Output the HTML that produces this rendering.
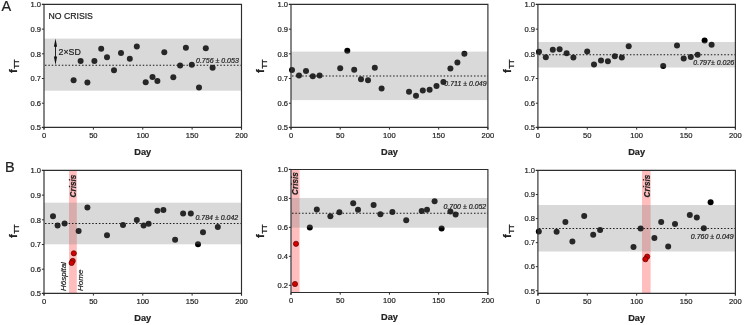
<!DOCTYPE html><html><head><meta charset="utf-8"><title>fTT</title><style>html,body{margin:0;padding:0;background:#fff}svg{display:block;will-change:transform;opacity:0.999}text{font-family:"Liberation Sans",sans-serif;fill:#222;stroke:#222;stroke-width:0.2px}</style></head><body>
<svg width="746" height="325" viewBox="0 0 746 325">
<rect width="746" height="325" fill="#fff"/>
<circle cx="73.6" cy="80.2" r="3" fill="#000"/>
<circle cx="80.6" cy="61" r="3" fill="#000"/>
<circle cx="87.4" cy="82.6" r="3" fill="#000"/>
<circle cx="94.4" cy="61" r="3" fill="#000"/>
<circle cx="101.2" cy="48.8" r="3" fill="#000"/>
<circle cx="107" cy="57.2" r="3" fill="#000"/>
<circle cx="114" cy="70.2" r="3" fill="#000"/>
<circle cx="121" cy="53" r="3" fill="#000"/>
<circle cx="129.8" cy="58.8" r="3" fill="#000"/>
<circle cx="136.8" cy="46.4" r="3" fill="#000"/>
<circle cx="145.7" cy="82.2" r="3" fill="#000"/>
<circle cx="152.5" cy="77" r="3" fill="#000"/>
<circle cx="157.4" cy="81.1" r="3" fill="#000"/>
<circle cx="164.3" cy="52.2" r="3" fill="#000"/>
<circle cx="173.3" cy="77.2" r="3" fill="#000"/>
<circle cx="180.1" cy="65.4" r="3" fill="#000"/>
<circle cx="185.9" cy="47.8" r="3" fill="#000"/>
<circle cx="191.8" cy="64.8" r="3" fill="#000"/>
<circle cx="199" cy="87.4" r="3" fill="#000"/>
<circle cx="205.8" cy="48.2" r="3" fill="#000"/>
<circle cx="212.6" cy="67.8" r="3" fill="#000"/>
<rect x="44" y="38.6" width="197.5" height="52.1" fill="#808080" fill-opacity="0.3"/>
<line x1="45" y1="65.15" x2="241.5" y2="65.15" stroke="#1a1a1a" stroke-width="1.05" stroke-dasharray="1.5 1.87"/>
<path d="M41.9 4.4H241.5V129.6" fill="none" stroke="#2e2e2e" stroke-width="1.15"/>
<path d="M44 4.4V129.6M41.9 127.4H241.5" fill="none" stroke="#2e2e2e" stroke-width="1.15"/>
<line x1="41.9" y1="127.5" x2="44" y2="127.5" stroke="#2e2e2e" stroke-width="1"/>
<text transform="translate(41.1 130.3) scale(0.95 1)" font-size="8" text-anchor="end" fill="#111">0.5</text>
<line x1="41.9" y1="103.21" x2="44" y2="103.21" stroke="#2e2e2e" stroke-width="1"/>
<text transform="translate(41.1 106.01) scale(0.95 1)" font-size="8" text-anchor="end" fill="#111">0.6</text>
<line x1="41.9" y1="78.52" x2="44" y2="78.52" stroke="#2e2e2e" stroke-width="1"/>
<text transform="translate(41.1 81.32) scale(0.95 1)" font-size="8" text-anchor="end" fill="#111">0.7</text>
<line x1="41.9" y1="53.83" x2="44" y2="53.83" stroke="#2e2e2e" stroke-width="1"/>
<text transform="translate(41.1 56.63) scale(0.95 1)" font-size="8" text-anchor="end" fill="#111">0.8</text>
<line x1="41.9" y1="29.14" x2="44" y2="29.14" stroke="#2e2e2e" stroke-width="1"/>
<text transform="translate(41.1 31.94) scale(0.95 1)" font-size="8" text-anchor="end" fill="#111">0.9</text>
<line x1="41.9" y1="4.45" x2="44" y2="4.45" stroke="#2e2e2e" stroke-width="1"/>
<text transform="translate(41.1 7.25) scale(0.95 1)" font-size="8" text-anchor="end" fill="#111">1.0</text>
<line x1="44" y1="127.4" x2="44" y2="129.6" stroke="#2e2e2e" stroke-width="1"/>
<text transform="translate(44 138.2) scale(0.95 1)" font-size="8" text-anchor="middle" fill="#111">0</text>
<line x1="93.38" y1="127.4" x2="93.38" y2="129.6" stroke="#2e2e2e" stroke-width="1"/>
<text transform="translate(93.38 138.2) scale(0.95 1)" font-size="8" text-anchor="middle" fill="#111">50</text>
<line x1="142.75" y1="127.4" x2="142.75" y2="129.6" stroke="#2e2e2e" stroke-width="1"/>
<text transform="translate(142.75 138.2) scale(0.95 1)" font-size="8" text-anchor="middle" fill="#111">100</text>
<line x1="192.12" y1="127.4" x2="192.12" y2="129.6" stroke="#2e2e2e" stroke-width="1"/>
<text transform="translate(192.12 138.2) scale(0.95 1)" font-size="8" text-anchor="middle" fill="#111">150</text>
<line x1="241.5" y1="127.4" x2="241.5" y2="129.6" stroke="#2e2e2e" stroke-width="1"/>
<text transform="translate(241.5 138.2) scale(0.95 1)" font-size="8" text-anchor="middle" fill="#111">200</text>
<text x="142.75" y="155.3" font-size="9.2" font-weight="bold" text-anchor="middle" fill="#111">Day</text>
<text x="238.8" y="62.9" font-size="7" font-style="italic" text-anchor="end" fill="#333">0.756 ± 0.053</text>
<g transform="translate(14.5 67) rotate(-90)"><text x="-5.9" y="2.2" font-size="11.5" font-weight="bold" fill="#000" stroke="#000" stroke-width="0.35">f</text><text x="-1.6" y="4.5" font-size="7.5" font-weight="bold" fill="#000" stroke="#000" stroke-width="0.2">TT</text></g>
<circle cx="292" cy="70" r="3" fill="#000"/>
<circle cx="299" cy="75.6" r="3" fill="#000"/>
<circle cx="306" cy="71" r="3" fill="#000"/>
<circle cx="312.8" cy="76.2" r="3" fill="#000"/>
<circle cx="319.6" cy="75.4" r="3" fill="#000"/>
<circle cx="340.2" cy="68.2" r="3" fill="#000"/>
<circle cx="347.3" cy="50.7" r="3" fill="#000"/>
<circle cx="354.2" cy="69.8" r="3" fill="#000"/>
<circle cx="361" cy="79.2" r="3" fill="#000"/>
<circle cx="368" cy="80.2" r="3" fill="#000"/>
<circle cx="374.8" cy="67.8" r="3" fill="#000"/>
<circle cx="381.6" cy="88.6" r="3" fill="#000"/>
<circle cx="409" cy="91.8" r="3" fill="#000"/>
<circle cx="416" cy="95.8" r="3" fill="#000"/>
<circle cx="422.8" cy="90.4" r="3" fill="#000"/>
<circle cx="429.6" cy="89.8" r="3" fill="#000"/>
<circle cx="436.5" cy="86" r="3" fill="#000"/>
<circle cx="443.4" cy="82" r="3" fill="#000"/>
<circle cx="450.4" cy="68.4" r="3" fill="#000"/>
<circle cx="457.4" cy="62.6" r="3" fill="#000"/>
<circle cx="464.4" cy="53.8" r="3" fill="#000"/>
<rect x="291" y="51.6" width="196.9" height="48.5" fill="#808080" fill-opacity="0.3"/>
<line x1="292" y1="76" x2="487.9" y2="76" stroke="#1a1a1a" stroke-width="1.05" stroke-dasharray="1.5 1.87"/>
<path d="M288.9 4.4H487.9V129.6" fill="none" stroke="#2e2e2e" stroke-width="1.15"/>
<path d="M291 4.4V129.6M288.9 127.4H487.9" fill="none" stroke="#2e2e2e" stroke-width="1.15"/>
<line x1="288.9" y1="127.5" x2="291" y2="127.5" stroke="#2e2e2e" stroke-width="1"/>
<text transform="translate(288.1 130.3) scale(0.95 1)" font-size="8" text-anchor="end" fill="#111">0.5</text>
<line x1="288.9" y1="103.21" x2="291" y2="103.21" stroke="#2e2e2e" stroke-width="1"/>
<text transform="translate(288.1 106.01) scale(0.95 1)" font-size="8" text-anchor="end" fill="#111">0.6</text>
<line x1="288.9" y1="78.52" x2="291" y2="78.52" stroke="#2e2e2e" stroke-width="1"/>
<text transform="translate(288.1 81.32) scale(0.95 1)" font-size="8" text-anchor="end" fill="#111">0.7</text>
<line x1="288.9" y1="53.83" x2="291" y2="53.83" stroke="#2e2e2e" stroke-width="1"/>
<text transform="translate(288.1 56.63) scale(0.95 1)" font-size="8" text-anchor="end" fill="#111">0.8</text>
<line x1="288.9" y1="29.14" x2="291" y2="29.14" stroke="#2e2e2e" stroke-width="1"/>
<text transform="translate(288.1 31.94) scale(0.95 1)" font-size="8" text-anchor="end" fill="#111">0.9</text>
<line x1="288.9" y1="4.45" x2="291" y2="4.45" stroke="#2e2e2e" stroke-width="1"/>
<text transform="translate(288.1 7.25) scale(0.95 1)" font-size="8" text-anchor="end" fill="#111">1.0</text>
<line x1="291" y1="127.4" x2="291" y2="129.6" stroke="#2e2e2e" stroke-width="1"/>
<text transform="translate(291 138.2) scale(0.95 1)" font-size="8" text-anchor="middle" fill="#111">0</text>
<line x1="340.23" y1="127.4" x2="340.23" y2="129.6" stroke="#2e2e2e" stroke-width="1"/>
<text transform="translate(340.23 138.2) scale(0.95 1)" font-size="8" text-anchor="middle" fill="#111">50</text>
<line x1="389.45" y1="127.4" x2="389.45" y2="129.6" stroke="#2e2e2e" stroke-width="1"/>
<text transform="translate(389.45 138.2) scale(0.95 1)" font-size="8" text-anchor="middle" fill="#111">100</text>
<line x1="438.67" y1="127.4" x2="438.67" y2="129.6" stroke="#2e2e2e" stroke-width="1"/>
<text transform="translate(438.67 138.2) scale(0.95 1)" font-size="8" text-anchor="middle" fill="#111">150</text>
<line x1="487.9" y1="127.4" x2="487.9" y2="129.6" stroke="#2e2e2e" stroke-width="1"/>
<text transform="translate(487.9 138.2) scale(0.95 1)" font-size="8" text-anchor="middle" fill="#111">200</text>
<text x="389.45" y="155.3" font-size="9.2" font-weight="bold" text-anchor="middle" fill="#111">Day</text>
<text x="486.6" y="85.9" font-size="7" font-style="italic" text-anchor="end" fill="#333">0.711 ± 0.049</text>
<g transform="translate(262 67) rotate(-90)"><text x="-5.9" y="2.2" font-size="11.5" font-weight="bold" fill="#000" stroke="#000" stroke-width="0.35">f</text><text x="-1.6" y="4.5" font-size="7.5" font-weight="bold" fill="#000" stroke="#000" stroke-width="0.2">TT</text></g>
<circle cx="539" cy="51.8" r="3" fill="#000"/>
<circle cx="545.8" cy="57.2" r="3" fill="#000"/>
<circle cx="552.8" cy="49.8" r="3" fill="#000"/>
<circle cx="559.6" cy="49.2" r="3" fill="#000"/>
<circle cx="566.6" cy="53.2" r="3" fill="#000"/>
<circle cx="573.4" cy="57.4" r="3" fill="#000"/>
<circle cx="587.2" cy="51.6" r="3" fill="#000"/>
<circle cx="594" cy="64.6" r="3" fill="#000"/>
<circle cx="601" cy="60.6" r="3" fill="#000"/>
<circle cx="607.9" cy="61.2" r="3" fill="#000"/>
<circle cx="614.8" cy="56.2" r="3" fill="#000"/>
<circle cx="621.8" cy="57.4" r="3" fill="#000"/>
<circle cx="628.7" cy="46.2" r="3" fill="#000"/>
<circle cx="663.2" cy="66" r="3" fill="#000"/>
<circle cx="677" cy="45.4" r="3" fill="#000"/>
<circle cx="683.7" cy="58.6" r="3" fill="#000"/>
<circle cx="690.8" cy="57" r="3" fill="#000"/>
<circle cx="697.6" cy="54.8" r="3" fill="#000"/>
<circle cx="704.6" cy="40.4" r="3" fill="#000"/>
<circle cx="711.6" cy="44.8" r="3" fill="#000"/>
<rect x="537.9" y="42" width="197.5" height="25.5" fill="#808080" fill-opacity="0.3"/>
<line x1="538.9" y1="54.7" x2="735.4" y2="54.7" stroke="#1a1a1a" stroke-width="1.05" stroke-dasharray="1.5 1.87"/>
<path d="M535.8 4.4H735.4V129.6" fill="none" stroke="#2e2e2e" stroke-width="1.15"/>
<path d="M537.9 4.4V129.6M535.8 127.4H735.4" fill="none" stroke="#2e2e2e" stroke-width="1.15"/>
<line x1="535.8" y1="127.5" x2="537.9" y2="127.5" stroke="#2e2e2e" stroke-width="1"/>
<text transform="translate(535 130.3) scale(0.95 1)" font-size="8" text-anchor="end" fill="#111">0.5</text>
<line x1="535.8" y1="103.21" x2="537.9" y2="103.21" stroke="#2e2e2e" stroke-width="1"/>
<text transform="translate(535 106.01) scale(0.95 1)" font-size="8" text-anchor="end" fill="#111">0.6</text>
<line x1="535.8" y1="78.52" x2="537.9" y2="78.52" stroke="#2e2e2e" stroke-width="1"/>
<text transform="translate(535 81.32) scale(0.95 1)" font-size="8" text-anchor="end" fill="#111">0.7</text>
<line x1="535.8" y1="53.83" x2="537.9" y2="53.83" stroke="#2e2e2e" stroke-width="1"/>
<text transform="translate(535 56.63) scale(0.95 1)" font-size="8" text-anchor="end" fill="#111">0.8</text>
<line x1="535.8" y1="29.14" x2="537.9" y2="29.14" stroke="#2e2e2e" stroke-width="1"/>
<text transform="translate(535 31.94) scale(0.95 1)" font-size="8" text-anchor="end" fill="#111">0.9</text>
<line x1="535.8" y1="4.45" x2="537.9" y2="4.45" stroke="#2e2e2e" stroke-width="1"/>
<text transform="translate(535 7.25) scale(0.95 1)" font-size="8" text-anchor="end" fill="#111">1.0</text>
<line x1="537.9" y1="127.4" x2="537.9" y2="129.6" stroke="#2e2e2e" stroke-width="1"/>
<text transform="translate(537.9 138.2) scale(0.95 1)" font-size="8" text-anchor="middle" fill="#111">0</text>
<line x1="587.27" y1="127.4" x2="587.27" y2="129.6" stroke="#2e2e2e" stroke-width="1"/>
<text transform="translate(587.27 138.2) scale(0.95 1)" font-size="8" text-anchor="middle" fill="#111">50</text>
<line x1="636.65" y1="127.4" x2="636.65" y2="129.6" stroke="#2e2e2e" stroke-width="1"/>
<text transform="translate(636.65 138.2) scale(0.95 1)" font-size="8" text-anchor="middle" fill="#111">100</text>
<line x1="686.02" y1="127.4" x2="686.02" y2="129.6" stroke="#2e2e2e" stroke-width="1"/>
<text transform="translate(686.02 138.2) scale(0.95 1)" font-size="8" text-anchor="middle" fill="#111">150</text>
<line x1="735.4" y1="127.4" x2="735.4" y2="129.6" stroke="#2e2e2e" stroke-width="1"/>
<text transform="translate(735.4 138.2) scale(0.95 1)" font-size="8" text-anchor="middle" fill="#111">200</text>
<text x="636.65" y="155.3" font-size="9.2" font-weight="bold" text-anchor="middle" fill="#111">Day</text>
<text x="734.2" y="65.1" font-size="7" font-style="italic" text-anchor="end" fill="#333">0.797± 0.026</text>
<g transform="translate(509 67) rotate(-90)"><text x="-5.9" y="2.2" font-size="11.5" font-weight="bold" fill="#000" stroke="#000" stroke-width="0.35">f</text><text x="-1.6" y="4.5" font-size="7.5" font-weight="bold" fill="#000" stroke="#000" stroke-width="0.2">TT</text></g>
<rect x="69" y="170.4" width="7.8" height="123" fill="#ff0000" fill-opacity="0.26"/>
<circle cx="53" cy="216.2" r="3" fill="#000"/>
<circle cx="57.6" cy="225.6" r="3" fill="#000"/>
<circle cx="64.6" cy="223.4" r="3" fill="#000"/>
<circle cx="78.6" cy="231" r="3" fill="#000"/>
<circle cx="87.4" cy="207.4" r="3" fill="#000"/>
<circle cx="107" cy="235.2" r="3" fill="#000"/>
<circle cx="123" cy="225" r="3" fill="#000"/>
<circle cx="136.8" cy="220" r="3" fill="#000"/>
<circle cx="143.6" cy="225.6" r="3" fill="#000"/>
<circle cx="148.6" cy="223.7" r="3" fill="#000"/>
<circle cx="157.4" cy="210.8" r="3" fill="#000"/>
<circle cx="163.4" cy="210" r="3" fill="#000"/>
<circle cx="175.1" cy="239.7" r="3" fill="#000"/>
<circle cx="183.1" cy="213.4" r="3" fill="#000"/>
<circle cx="190.8" cy="213.6" r="3" fill="#000"/>
<circle cx="198" cy="244.2" r="3" fill="#000"/>
<circle cx="203" cy="232.2" r="3" fill="#000"/>
<circle cx="217.8" cy="227" r="3" fill="#000"/>
<rect x="44" y="202.7" width="197.5" height="41.6" fill="#808080" fill-opacity="0.3"/>
<line x1="45" y1="223.5" x2="241.5" y2="223.5" stroke="#1a1a1a" stroke-width="1.05" stroke-dasharray="1.5 1.87"/>
<circle cx="73.8" cy="253.3" r="2.6" fill="#d40000" stroke="#5a0000" stroke-width="0.7"/>
<circle cx="72.7" cy="260.9" r="2.6" fill="#d40000" stroke="#5a0000" stroke-width="0.7"/>
<circle cx="71.6" cy="262.9" r="2.6" fill="#d40000" stroke="#5a0000" stroke-width="0.7"/>
<path d="M41.9 170.4H241.5V295.6" fill="none" stroke="#2e2e2e" stroke-width="1.15"/>
<path d="M44 170.4V295.6M41.9 293.4H241.5" fill="none" stroke="#2e2e2e" stroke-width="1.15"/>
<line x1="41.9" y1="293.5" x2="44" y2="293.5" stroke="#2e2e2e" stroke-width="1"/>
<text transform="translate(41.1 296.3) scale(0.95 1)" font-size="8" text-anchor="end" fill="#111">0.5</text>
<line x1="41.9" y1="269.21" x2="44" y2="269.21" stroke="#2e2e2e" stroke-width="1"/>
<text transform="translate(41.1 272.01) scale(0.95 1)" font-size="8" text-anchor="end" fill="#111">0.6</text>
<line x1="41.9" y1="244.52" x2="44" y2="244.52" stroke="#2e2e2e" stroke-width="1"/>
<text transform="translate(41.1 247.32) scale(0.95 1)" font-size="8" text-anchor="end" fill="#111">0.7</text>
<line x1="41.9" y1="219.83" x2="44" y2="219.83" stroke="#2e2e2e" stroke-width="1"/>
<text transform="translate(41.1 222.63) scale(0.95 1)" font-size="8" text-anchor="end" fill="#111">0.8</text>
<line x1="41.9" y1="195.14" x2="44" y2="195.14" stroke="#2e2e2e" stroke-width="1"/>
<text transform="translate(41.1 197.94) scale(0.95 1)" font-size="8" text-anchor="end" fill="#111">0.9</text>
<line x1="41.9" y1="170.45" x2="44" y2="170.45" stroke="#2e2e2e" stroke-width="1"/>
<text transform="translate(41.1 173.25) scale(0.95 1)" font-size="8" text-anchor="end" fill="#111">1.0</text>
<line x1="44" y1="293.4" x2="44" y2="295.6" stroke="#2e2e2e" stroke-width="1"/>
<text transform="translate(44 304.2) scale(0.95 1)" font-size="8" text-anchor="middle" fill="#111">0</text>
<line x1="93.38" y1="293.4" x2="93.38" y2="295.6" stroke="#2e2e2e" stroke-width="1"/>
<text transform="translate(93.38 304.2) scale(0.95 1)" font-size="8" text-anchor="middle" fill="#111">50</text>
<line x1="142.75" y1="293.4" x2="142.75" y2="295.6" stroke="#2e2e2e" stroke-width="1"/>
<text transform="translate(142.75 304.2) scale(0.95 1)" font-size="8" text-anchor="middle" fill="#111">100</text>
<line x1="192.12" y1="293.4" x2="192.12" y2="295.6" stroke="#2e2e2e" stroke-width="1"/>
<text transform="translate(192.12 304.2) scale(0.95 1)" font-size="8" text-anchor="middle" fill="#111">150</text>
<line x1="241.5" y1="293.4" x2="241.5" y2="295.6" stroke="#2e2e2e" stroke-width="1"/>
<text transform="translate(241.5 304.2) scale(0.95 1)" font-size="8" text-anchor="middle" fill="#111">200</text>
<text x="142.75" y="321.3" font-size="9.2" font-weight="bold" text-anchor="middle" fill="#111">Day</text>
<text x="238.2" y="220.1" font-size="7" font-style="italic" text-anchor="end" fill="#333">0.784 ± 0.042</text>
<g transform="translate(14.5 232) rotate(-90)"><text x="-5.9" y="2.2" font-size="11.5" font-weight="bold" fill="#000" stroke="#000" stroke-width="0.35">f</text><text x="-1.6" y="4.5" font-size="7.5" font-weight="bold" fill="#000" stroke="#000" stroke-width="0.2">TT</text></g>
<text transform="translate(75.9 197.4) rotate(-90)" font-size="8.2" font-weight="bold" font-style="italic" fill="#111">Crisis</text>
<text transform="translate(66.3 291) rotate(-90)" font-size="8" font-style="italic" fill="#111">Hôspital</text>
<text transform="translate(82.5 291) rotate(-90)" font-size="8" font-style="italic" fill="#111">Home</text>
<rect x="291.3" y="169.5" width="8.3" height="123" fill="#ff0000" fill-opacity="0.26"/>
<circle cx="309.8" cy="227.4" r="3" fill="#000"/>
<circle cx="316.8" cy="209.4" r="3" fill="#000"/>
<circle cx="330.4" cy="216.2" r="3" fill="#000"/>
<circle cx="339.4" cy="212.2" r="3" fill="#000"/>
<circle cx="353.2" cy="203.2" r="3" fill="#000"/>
<circle cx="358" cy="209.8" r="3" fill="#000"/>
<circle cx="373.6" cy="205" r="3" fill="#000"/>
<circle cx="380.4" cy="214.2" r="3" fill="#000"/>
<circle cx="392.4" cy="212" r="3" fill="#000"/>
<circle cx="406.2" cy="220.2" r="3" fill="#000"/>
<circle cx="421.7" cy="211" r="3" fill="#000"/>
<circle cx="427" cy="209.8" r="3" fill="#000"/>
<circle cx="434.6" cy="201.2" r="3" fill="#000"/>
<circle cx="441.6" cy="228.6" r="3" fill="#000"/>
<circle cx="450.4" cy="211.6" r="3" fill="#000"/>
<circle cx="455.6" cy="214.6" r="3" fill="#000"/>
<rect x="291" y="198" width="196.9" height="29.7" fill="#808080" fill-opacity="0.3"/>
<line x1="292" y1="213.2" x2="487.9" y2="213.2" stroke="#1a1a1a" stroke-width="1.05" stroke-dasharray="1.5 1.87"/>
<circle cx="296" cy="243.8" r="2.6" fill="#d40000" stroke="#5a0000" stroke-width="0.7"/>
<circle cx="295" cy="284" r="2.6" fill="#d40000" stroke="#5a0000" stroke-width="0.7"/>
<path d="M288.9 169.5H487.9V294.7" fill="none" stroke="#2e2e2e" stroke-width="1.15"/>
<path d="M291 169.5V294.7M291 292.5H487.9" fill="none" stroke="#2e2e2e" stroke-width="1.15"/>
<line x1="288.9" y1="285.3" x2="291" y2="285.3" stroke="#2e2e2e" stroke-width="1"/>
<text transform="translate(288.1 288.1) scale(0.95 1)" font-size="8" text-anchor="end" fill="#111">0.2</text>
<line x1="288.9" y1="256.32" x2="291" y2="256.32" stroke="#2e2e2e" stroke-width="1"/>
<text transform="translate(288.1 259.12) scale(0.95 1)" font-size="8" text-anchor="end" fill="#111">0.4</text>
<line x1="288.9" y1="227.34" x2="291" y2="227.34" stroke="#2e2e2e" stroke-width="1"/>
<text transform="translate(288.1 230.14) scale(0.95 1)" font-size="8" text-anchor="end" fill="#111">0.6</text>
<line x1="288.9" y1="198.36" x2="291" y2="198.36" stroke="#2e2e2e" stroke-width="1"/>
<text transform="translate(288.1 201.16) scale(0.95 1)" font-size="8" text-anchor="end" fill="#111">0.8</text>
<line x1="288.9" y1="169.38" x2="291" y2="169.38" stroke="#2e2e2e" stroke-width="1"/>
<text transform="translate(288.1 172.18) scale(0.95 1)" font-size="8" text-anchor="end" fill="#111">1.0</text>
<line x1="291" y1="292.5" x2="291" y2="294.7" stroke="#2e2e2e" stroke-width="1"/>
<text transform="translate(291 303.3) scale(0.95 1)" font-size="8" text-anchor="middle" fill="#111">0</text>
<line x1="340.23" y1="292.5" x2="340.23" y2="294.7" stroke="#2e2e2e" stroke-width="1"/>
<text transform="translate(340.23 303.3) scale(0.95 1)" font-size="8" text-anchor="middle" fill="#111">50</text>
<line x1="389.45" y1="292.5" x2="389.45" y2="294.7" stroke="#2e2e2e" stroke-width="1"/>
<text transform="translate(389.45 303.3) scale(0.95 1)" font-size="8" text-anchor="middle" fill="#111">100</text>
<line x1="438.67" y1="292.5" x2="438.67" y2="294.7" stroke="#2e2e2e" stroke-width="1"/>
<text transform="translate(438.67 303.3) scale(0.95 1)" font-size="8" text-anchor="middle" fill="#111">150</text>
<line x1="487.9" y1="292.5" x2="487.9" y2="294.7" stroke="#2e2e2e" stroke-width="1"/>
<text transform="translate(487.9 303.3) scale(0.95 1)" font-size="8" text-anchor="middle" fill="#111">200</text>
<text x="389.45" y="320.4" font-size="9.2" font-weight="bold" text-anchor="middle" fill="#111">Day</text>
<text x="486.2" y="209.3" font-size="7" font-style="italic" text-anchor="end" fill="#333">0.700 ± 0.052</text>
<g transform="translate(262 232) rotate(-90)"><text x="-5.9" y="2.2" font-size="11.5" font-weight="bold" fill="#000" stroke="#000" stroke-width="0.35">f</text><text x="-1.6" y="4.5" font-size="7.5" font-weight="bold" fill="#000" stroke="#000" stroke-width="0.2">TT</text></g>
<text transform="translate(298.1 194.9) rotate(-90)" font-size="8.2" font-weight="bold" font-style="italic" fill="#111">Crisis</text>
<rect x="642" y="170.4" width="8.6" height="123" fill="#ff0000" fill-opacity="0.26"/>
<circle cx="538.8" cy="231.6" r="3" fill="#000"/>
<circle cx="556.6" cy="231.8" r="3" fill="#000"/>
<circle cx="565.4" cy="222" r="3" fill="#000"/>
<circle cx="572.4" cy="241.6" r="3" fill="#000"/>
<circle cx="584.2" cy="216" r="3" fill="#000"/>
<circle cx="593.2" cy="234.8" r="3" fill="#000"/>
<circle cx="600.1" cy="230" r="3" fill="#000"/>
<circle cx="633.5" cy="247.1" r="3" fill="#000"/>
<circle cx="640.6" cy="228.4" r="3" fill="#000"/>
<circle cx="654.4" cy="238" r="3" fill="#000"/>
<circle cx="661.2" cy="222.1" r="3" fill="#000"/>
<circle cx="668.2" cy="246.5" r="3" fill="#000"/>
<circle cx="675" cy="223.9" r="3" fill="#000"/>
<circle cx="689.8" cy="215" r="3" fill="#000"/>
<circle cx="696.8" cy="217.6" r="3" fill="#000"/>
<circle cx="703.8" cy="228.2" r="3" fill="#000"/>
<circle cx="710.6" cy="202.2" r="3" fill="#000"/>
<rect x="537.9" y="205" width="197.5" height="46.5" fill="#808080" fill-opacity="0.3"/>
<line x1="538.9" y1="228.5" x2="735.4" y2="228.5" stroke="#1a1a1a" stroke-width="1.05" stroke-dasharray="1.5 1.87"/>
<circle cx="647.2" cy="256.6" r="2.6" fill="#d40000" stroke="#5a0000" stroke-width="0.7"/>
<circle cx="645.4" cy="259.2" r="2.6" fill="#d40000" stroke="#5a0000" stroke-width="0.7"/>
<path d="M535.8 170.4H735.4V295.6" fill="none" stroke="#2e2e2e" stroke-width="1.15"/>
<path d="M537.9 170.4V295.6M537.9 293.4H735.4" fill="none" stroke="#2e2e2e" stroke-width="1.15"/>
<line x1="535.8" y1="290.7" x2="537.9" y2="290.7" stroke="#2e2e2e" stroke-width="1"/>
<text transform="translate(535 293.5) scale(0.95 1)" font-size="8" text-anchor="end" fill="#111">0.5</text>
<line x1="535.8" y1="266.66" x2="537.9" y2="266.66" stroke="#2e2e2e" stroke-width="1"/>
<text transform="translate(535 269.46) scale(0.95 1)" font-size="8" text-anchor="end" fill="#111">0.6</text>
<line x1="535.8" y1="242.62" x2="537.9" y2="242.62" stroke="#2e2e2e" stroke-width="1"/>
<text transform="translate(535 245.42) scale(0.95 1)" font-size="8" text-anchor="end" fill="#111">0.7</text>
<line x1="535.8" y1="218.58" x2="537.9" y2="218.58" stroke="#2e2e2e" stroke-width="1"/>
<text transform="translate(535 221.38) scale(0.95 1)" font-size="8" text-anchor="end" fill="#111">0.8</text>
<line x1="535.8" y1="194.54" x2="537.9" y2="194.54" stroke="#2e2e2e" stroke-width="1"/>
<text transform="translate(535 197.34) scale(0.95 1)" font-size="8" text-anchor="end" fill="#111">0.9</text>
<line x1="535.8" y1="170.5" x2="537.9" y2="170.5" stroke="#2e2e2e" stroke-width="1"/>
<text transform="translate(535 173.3) scale(0.95 1)" font-size="8" text-anchor="end" fill="#111">1.0</text>
<line x1="537.9" y1="293.4" x2="537.9" y2="295.6" stroke="#2e2e2e" stroke-width="1"/>
<text transform="translate(537.9 304.2) scale(0.95 1)" font-size="8" text-anchor="middle" fill="#111">0</text>
<line x1="587.27" y1="293.4" x2="587.27" y2="295.6" stroke="#2e2e2e" stroke-width="1"/>
<text transform="translate(587.27 304.2) scale(0.95 1)" font-size="8" text-anchor="middle" fill="#111">50</text>
<line x1="636.65" y1="293.4" x2="636.65" y2="295.6" stroke="#2e2e2e" stroke-width="1"/>
<text transform="translate(636.65 304.2) scale(0.95 1)" font-size="8" text-anchor="middle" fill="#111">100</text>
<line x1="686.02" y1="293.4" x2="686.02" y2="295.6" stroke="#2e2e2e" stroke-width="1"/>
<text transform="translate(686.02 304.2) scale(0.95 1)" font-size="8" text-anchor="middle" fill="#111">150</text>
<line x1="735.4" y1="293.4" x2="735.4" y2="295.6" stroke="#2e2e2e" stroke-width="1"/>
<text transform="translate(735.4 304.2) scale(0.95 1)" font-size="8" text-anchor="middle" fill="#111">200</text>
<text x="636.65" y="321.3" font-size="9.2" font-weight="bold" text-anchor="middle" fill="#111">Day</text>
<text x="733.6" y="238.5" font-size="7" font-style="italic" text-anchor="end" fill="#333">0.760 ± 0.049</text>
<g transform="translate(509 232) rotate(-90)"><text x="-5.9" y="2.2" font-size="11.5" font-weight="bold" fill="#000" stroke="#000" stroke-width="0.35">f</text><text x="-1.6" y="4.5" font-size="7.5" font-weight="bold" fill="#000" stroke="#000" stroke-width="0.2">TT</text></g>
<text transform="translate(649.5 197.4) rotate(-90)" font-size="8.2" font-weight="bold" font-style="italic" fill="#111">Crisis</text>
<text x="1.5" y="11.2" font-size="14.5" fill="#111">A</text>
<text x="5.1" y="171.8" font-size="14.5" fill="#111">B</text>
<text x="48.5" y="19.1" font-size="8.7" fill="#222">NO CRISIS</text>
<path d="M55.5 44V60" stroke="#111" stroke-width="0.9" fill="none"/>
<path d="M55.5 38.6L53.9 46.8H57.1ZM55.5 65L53.9 56.4H57.1Z" fill="#111"/>
<text x="58.6" y="54.9" font-size="8.8" fill="#222">2×SD</text>
</svg></body></html>
